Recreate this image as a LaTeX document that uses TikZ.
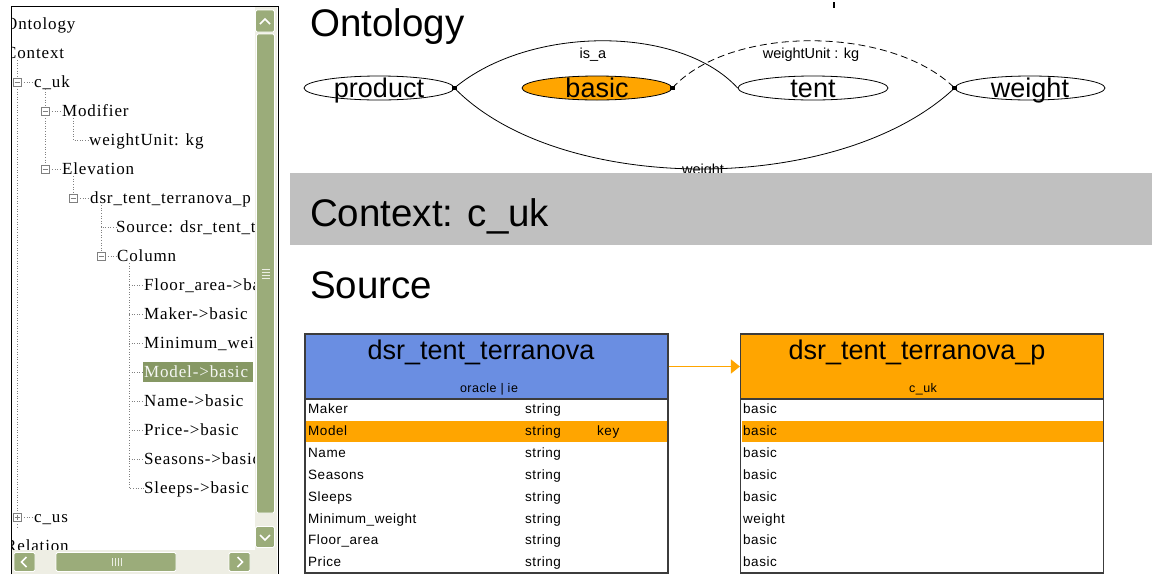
\documentclass[tikz,border=0pt]{standalone}
\usepackage{fontspec}
\setmainfont{Liberation Sans}
\newfontfamily\treefont[LetterSpace=5]{Liberation Serif}
\newfontfamily\rowfont[LetterSpace=4]{Liberation Sans}
\usetikzlibrary{shapes.geometric,arrows.meta,calc}

\definecolor{scrollgreen}{RGB}{155,172,122}
\definecolor{selgreen}{RGB}{134,152,100}
\definecolor{scrolltrack}{RGB}{238,238,228}
\definecolor{ontorange}{RGB}{255,165,0}
\definecolor{tabblue}{RGB}{106,142,226}
\definecolor{bandgray}{RGB}{192,192,192}
\definecolor{tabline}{RGB}{60,60,60}

\tikzset{
  treetext/.style={anchor=west,inner sep=0pt,text height=12pt,text depth=2pt,font=\treefont\fontsize{17}{19}\selectfont},
  treebox/.style={draw=gray,fill=white,minimum size=8pt,inner sep=0pt,line width=0.6pt},
  treeminus/.style={treebox,path picture={\draw[line width=0.8pt] ([xshift=-2.5pt]path picture bounding box.center) -- ([xshift=2.5pt]path picture bounding box.center);}},
  treeplus/.style={treebox,path picture={\draw[line width=0.8pt] ([xshift=-2.5pt]path picture bounding box.center) -- ([xshift=2.5pt]path picture bounding box.center) ([yshift=-2.5pt]path picture bounding box.center) -- ([yshift=2.5pt]path picture bounding box.center);}},
  treeline/.style={draw=gray,dotted,line width=0.6pt},
  scrollbtn/.style={fill=scrollgreen,draw=white,line width=0.8pt,rounded corners=1.5pt,inner sep=0pt},
  chevron/.style={white,line width=1.6pt},
  concept/.style={ellipse,draw,line width=0.8pt,minimum width=150pt,minimum height=24pt,inner sep=0pt,font=\fontsize{27}{27}\selectfont},
  marker/.style={fill,minimum size=4.5pt,inner sep=0pt},
  rel/.style={line width=0.8pt},
  rellabel/.style={inner sep=0pt,font=\fontsize{14.5}{15}\selectfont},
  heading/.style={anchor=base west,inner sep=0pt,font=\fontsize{38.5}{40}\selectfont},
  tabhead/.style={draw=tabline,line width=1.2pt,minimum width=363pt,minimum height=65pt,inner sep=0pt},
  tabbody/.style={draw=tabline,line width=1.2pt,fill=white,minimum width=363pt,minimum height=174pt,inner sep=0pt},
  tabtitle/.style={anchor=base,inner sep=0pt,font=\fontsize{27}{28}\selectfont},
  tabsub/.style={anchor=base,inner sep=0pt,font=\rowfont\fontsize{12.5}{13}\selectfont},
  rowtext/.style={anchor=west,inner sep=0pt,text height=11pt,text depth=1pt,font=\rowfont\fontsize{13.5}{14}\selectfont},
  rowmark/.style={fill=ontorange,minimum width=361pt,minimum height=21pt,inner sep=0pt},
}
\newcommand{\conceptname}[1]{\smash{\raisebox{-9.5pt}{#1}}}

\begin{document}
\begin{tikzpicture}[x=1pt,y=1pt,yscale=-1]
\useasboundingbox (0,0) rectangle (1152,574);

%%% left tree panel
\begin{scope}
\clip (12,7) rectangle (255,550);
% Text Node
\node [treetext] (ont) at (5,24) {Ontology};
\node [treetext] (ctx) at (5,53) {Context};
%Shape: Boxes
\node [treeminus] (bcuk) at (17,82) {};
\node [treeminus] (bmodif) at (45,111) {};
\node [treeminus] (belev) at (45,169) {};
\node [treeminus] (bdsr) at (73,198) {};
\node [treeminus] (bcolumn) at (101,256) {};
\node [treeplus] (bcus) at (17,517) {};
% Text Node
\node [treetext] (cuk) at (34,82) {c\_uk};
\node [treetext] (modif) at (62,111) {Modifier};
\node [treetext] (wunit) at (89,140) {weightUnit: kg};
\node [treetext] (elev) at (62,169) {Elevation};
\node [treetext] (dsr) at (90,198) {dsr\_tent\_terranova\_p};
\node [treetext] (srcitem) at (116,227) {Source: dsr\_tent\_terranova};
\node [treetext] (column) at (117,256) {Column};
\node [treetext] (floor) at (144,285) {Floor\_area->basic};
\node [treetext] (maker) at (144,314) {Maker->basic};
\node [treetext] (minw) at (144,343) {Minimum\_weight->basic};
\fill [selgreen] (143,362) rectangle (253,382);
\node [treetext,text=white!92!selgreen] (model) at (144,372) {Model->basic};
\node [treetext] (name) at (144,401) {Name->basic};
\node [treetext] (price) at (144,430) {Price->basic};
\node [treetext] (seasons) at (144,459) {Seasons->basic};
\node [treetext] (sleeps) at (144,488) {Sleeps->basic};
\node [treetext] (cus) at (34,517) {c\_us};
\node [treetext] (relat) at (5,546) {Relation};
%Dotted Lines
\draw [treeline] (ctx.south -| bcuk) -- (bcuk.north) (bcuk.south) -- (bcus.north) (bcus.south) -- ++(0,6);
\draw [treeline] (bcuk.east) -- (cuk.west) (bcus.east) -- (cus.west);
\draw [treeline] (cuk.south -| bmodif) -- (bmodif.north) (bmodif.south) -- (belev.north);
\draw [treeline] (bmodif.east) -- (modif.west) (belev.east) -- (elev.west);
\draw [treeline] (modif.south -| bdsr) |- (wunit.west);
\draw [treeline] (elev.south -| bdsr) -- (bdsr.north) (bdsr.east) -- (dsr.west);
\draw [treeline] (dsr.south -| bcolumn) |- (srcitem.west) (srcitem.west -| bcolumn) -- (bcolumn.north) (bcolumn.east) -- (column.west);
\draw [treeline] (column.south -| 129,0) |- (sleeps.west);
\draw [treeline] (floor.west -| 129,0) -- (floor.west) (maker.west -| 129,0) -- (maker.west) (minw.west -| 129,0) -- (minw.west) (model.west -| 129,0) -- (model.west) (name.west -| 129,0) -- (name.west) (price.west -| 129,0) -- (price.west) (seasons.west -| 129,0) -- (seasons.west);
\end{scope}

%Scroll bars
\fill [scrolltrack] (255,7) rectangle (277,550);
\fill [scrolltrack] (12,550) rectangle (277,574);
\node [scrollbtn,minimum width=19pt,minimum height=22pt] (upbtn) at (265,21) {};
\node [scrollbtn,minimum width=18pt,minimum height=479pt] (vthumb) at (265.5,273.5) {};
\node [scrollbtn,minimum width=19pt,minimum height=21pt] (downbtn) at (265,537) {};
\node [scrollbtn,minimum width=21pt,minimum height=19pt] (leftbtn) at (24.5,562) {};
\node [scrollbtn,minimum width=120pt,minimum height=19pt] (hthumb) at (116,562) {};
\node [scrollbtn,minimum width=21pt,minimum height=19pt] (rightbtn) at (239.5,562) {};
\draw [chevron] ($(upbtn)+(-5,3)$) -- ($(upbtn)+(0,-2)$) -- ($(upbtn)+(5,3)$);
\draw [chevron] ($(downbtn)+(-5,-2)$) -- ($(downbtn)+(0,3)$) -- ($(downbtn)+(5,-2)$);
\draw [chevron] ($(leftbtn)+(2,-5)$) -- ($(leftbtn)+(-3,0)$) -- ($(leftbtn)+(2,5)$);
\draw [chevron] ($(rightbtn)+(-2,-5)$) -- ($(rightbtn)+(3,0)$) -- ($(rightbtn)+(-2,5)$);
\draw [white!80!scrollgreen,line width=0.6pt] ($(vthumb)+(-4,-4)$) -- ++(8,0) ($(vthumb)+(-4,-1)$) -- ++(8,0) ($(vthumb)+(-4,2)$) -- ++(8,0) ($(vthumb)+(-4,5)$) -- ++(8,0);
\draw [white!80!scrollgreen,line width=0.6pt] ($(hthumb)+(-4,-4)$) -- ++(0,8) ($(hthumb)+(-1,-4)$) -- ++(0,8) ($(hthumb)+(2,-4)$) -- ++(0,8) ($(hthumb)+(5,-4)$) -- ++(0,8);
%Panel frame
\draw [line width=1pt] (11,574) -- (11,6) -- (278,6) -- (278,574);

%%% ontology
\node [heading] (ontohead) at (310,36) {Ontology};
\draw [line width=2pt] (834,2) -- (834,8);
%Shape: Ellipse
\node [concept] (product) at (379,88) {\conceptname{product}};
\node [concept,fill=ontorange] (basic) at (597,88) {\conceptname{basic}};
\node [concept] (tent) at (813,88) {\conceptname{tent}};
\node [concept] (weight) at (1030,88) {\conceptname{weight}};
%Curve Lines
\draw [rel] (product.east) .. controls (530,25) and (680,25) .. (tent.west);
\draw [rel,dash pattern=on 7pt off 4pt] (basic.east) .. controls (730,25) and (890,25) .. (weight.west);
\draw [rel] (product.east) .. controls (560,196) and (840,196) .. (weight.west);
\node [marker] (m1) at (product.east) {};
\node [marker] (m2) at (basic.east) {};
\node [marker] (m3) at (weight.west) {};
% Text Node
\node [rellabel] (isa) at (593,55) {is\_a};
\node [rellabel] (wul) at (811,55) {weightUnit : kg};
\node [rellabel] (wl) at (703,171) {weight};

%%% context band
\fill [bandgray] (290,173) rectangle (1152,245);
\node [heading] (ctxhead) at (310,226) {Context: c\_uk};

%%% source tables
\node [heading] (srchead0) at (310,298) {Source};
\node [tabbody] (srcbody) at (486.5,486) {};
\node [tabbody] (tgtbody) at (922,486) {};
\node [rowmark] (srcsel) at (486.5,431) {};
\node [rowmark] (tgtsel) at (922,431) {};
\node [tabhead,fill=tabblue] (srchead) at (486.5,366.5) {};
\node [tabhead,fill=ontorange] (tgthead) at (922,366.5) {};
\draw [ontorange,line width=1.5pt,-{Triangle[length=9pt,width=14pt]}] (srchead.east) -- (tgthead.west);
% Text Node
\node [tabtitle] (srctitle) at (481,359) {dsr\_tent\_terranova};
\node [tabsub] (srcsub) at (489,392) {oracle | ie};
\node [tabtitle] (tgttitle) at (917,359) {dsr\_tent\_terranova\_p};
\node [tabsub] (tgtsub) at (923,392) {c\_uk};
% Text Node
\node [rowtext] (c1) at (308,408) {Maker};
\node [rowtext] (c2) at (308,430) {Model};
\node [rowtext] (c3) at (308,452) {Name};
\node [rowtext] (c4) at (308,474) {Seasons};
\node [rowtext] (c5) at (308,496) {Sleeps};
\node [rowtext] (c6) at (308,518) {Minimum\_weight};
\node [rowtext] (c7) at (308,539) {Floor\_area};
\node [rowtext] (c8) at (308,561) {Price};
\node [rowtext] (t1) at (525,408) {string};
\node [rowtext] (t2) at (525,430) {string};
\node [rowtext] (t3) at (525,452) {string};
\node [rowtext] (t4) at (525,474) {string};
\node [rowtext] (t5) at (525,496) {string};
\node [rowtext] (t6) at (525,518) {string};
\node [rowtext] (t7) at (525,539) {string};
\node [rowtext] (t8) at (525,561) {string};
\node [rowtext] (k2) at (597,430) {key};
\node [rowtext] (p1) at (743,408) {basic};
\node [rowtext] (p2) at (743,430) {basic};
\node [rowtext] (p3) at (743,452) {basic};
\node [rowtext] (p4) at (743,474) {basic};
\node [rowtext] (p5) at (743,496) {basic};
\node [rowtext] (p6) at (743,518) {weight};
\node [rowtext] (p7) at (743,539) {basic};
\node [rowtext] (p8) at (743,561) {basic};

\end{tikzpicture}
\end{document}
